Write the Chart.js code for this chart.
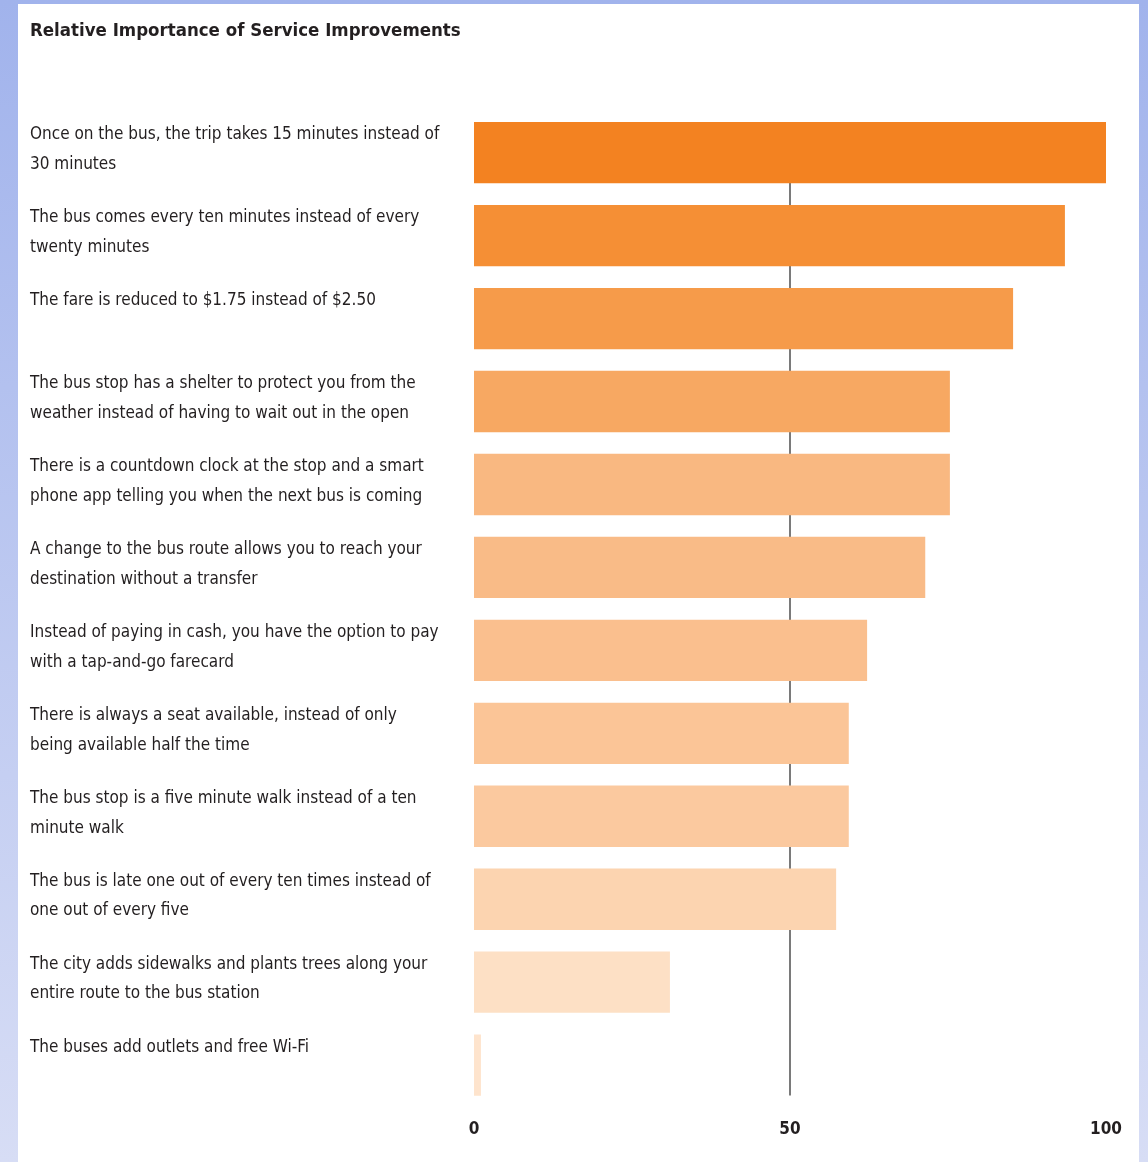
<!DOCTYPE html>
<html>
<head>
<meta charset="utf-8">
<script src="https://cdn.jsdelivr.net/npm/chart.js@4.4.1/dist/chart.umd.min.js"></script>
<style>
  html, body { margin: 0; padding: 0; }
  body {
    width: 1148px; height: 1162px; overflow: hidden;
    background: linear-gradient(to bottom, #a1b3ec, #d7ddf5);
  }
  #panel {
    position: absolute; left: 18px; top: 4px;
    width: 1121px; height: 1158px; background: #ffffff;
  }
</style>
</head>
<body>
<div id="panel"><canvas id="myChart" width="1121" height="1158"></canvas></div>
<script>
var categories = [
    ["Once on the bus, the trip takes 15 minutes instead of", "30 minutes"],
    ["The bus comes every ten minutes instead of every", "twenty minutes"],
    ["The fare is reduced to $1.75 instead of $2.50"],
    ["The bus stop has a shelter to protect you from the", "weather instead of having to wait out in the open"],
    ["There is a countdown clock at the stop and a smart", "phone app telling you when the next bus is coming"],
    ["A change to the bus route allows you to reach your", "destination without a transfer"],
    ["Instead of paying in cash, you have the option to pay", "with a tap-and-go farecard"],
    ["There is always a seat available, instead of only", "being available half the time"],
    ["The bus stop is a five minute walk instead of a ten", "minute walk"],
    ["The bus is late one out of every ten times instead of", "one out of every five"],
    ["The city adds sidewalks and plants trees along your", "entire route to the bus station"],
    ["The buses add outlets and free Wi-Fi"]
];
var importance = [100, 93.5, 85.3, 75.3, 75.3, 71.4, 62.2, 59.3, 59.3, 57.3, 31.0, 1.1];
var barColors = ['#f38221', '#f58f35', '#f69b4a', '#f7a862', '#f9b881', '#f9bb87',
                 '#fabf8e', '#fbc597', '#fbc99f', '#fcd4b0', '#fde0c5', '#fee4cd'];
var xTicks = [0, 50, 100];
var refLine = 50;

var textColor = '#231f20';
var fontFamily = "'DejaVu Sans Condensed', 'Liberation Sans Narrow', sans-serif";

// vertical line at 50, starting under the first bar, stopping a bit above the axis
var refLinePlugin = {
    id: 'refLine',
    beforeDatasetsDraw: function (chart) {
        var x = chart.scales.x.getPixelForValue(refLine);
        var y0 = chart.scales.y.getPixelForValue(0);
        var y1 = chart.chartArea.bottom - 11;
        var c = chart.ctx;
        c.save();
        c.strokeStyle = '#7a7a7a';
        c.lineWidth = 2;
        c.beginPath();
        c.moveTo(x, y0);
        c.lineTo(x, y1);
        c.stroke();
        c.restore();
    }
};

// category labels: left aligned, lined up with the top of each bar
var labelPlugin = {
    id: 'topLabels',
    afterDraw: function (chart) {
        var yScale = chart.scales.y;
        var meta = chart.getDatasetMeta(0);
        var c = chart.ctx;
        c.save();
        c.fillStyle = textColor;
        c.font = "17px " + fontFamily;
        c.textAlign = 'left';
        c.textBaseline = 'middle';
        categories.forEach(function (lines, i) {
            var bar = meta.data[i];
            var top = bar.y - bar.height / 2;
            lines.forEach(function (line, j) {
                c.fillText(line, yScale.left, top + 13 + j * 29.5);
            });
        });
        c.restore();
    }
};

var ctx = document.getElementById("myChart").getContext("2d");

new Chart(ctx, {
    type: 'bar',
    data: {
        labels: categories,
        datasets: [{
            label: 'Relative importance',
            data: importance,
            backgroundColor: barColors,
            barPercentage: 0.74,
            categoryPercentage: 1.0
        }]
    },
    options: {
        indexAxis: 'y',
        responsive: false,
        animation: false,
        layout: {
            padding: { left: 12, right: 33, top: 10, bottom: 9 }
        },
        plugins: {
            legend: { display: false },
            tooltip: { enabled: false },
            title: {
                display: true,
                align: 'start',
                text: 'Relative Importance of Service Improvements',
                color: textColor,
                font: { family: fontFamily, size: 18.5, weight: 'bold', lineHeight: 1.2 },
                padding: { top: 6, bottom: 69 }
            }
        },
        scales: {
            x: {
                min: 0,
                max: 100,
                afterBuildTicks: function (scale) {
                    scale.ticks = xTicks.map(function (v) { return { value: v }; });
                },
                grid: { display: false, drawTicks: false },
                border: { display: false },
                ticks: {
                    color: textColor,
                    padding: 13,
                    font: { family: fontFamily, size: 17, weight: 'bold' }
                }
            },
            y: {
                grid: { display: false, drawTicks: false },
                border: { display: false },
                afterFit: function (scale) { scale.width = 444; },
                ticks: { display: false }
            }
        }
    },
    plugins: [refLinePlugin, labelPlugin]
});
</script>
</body>
</html>
